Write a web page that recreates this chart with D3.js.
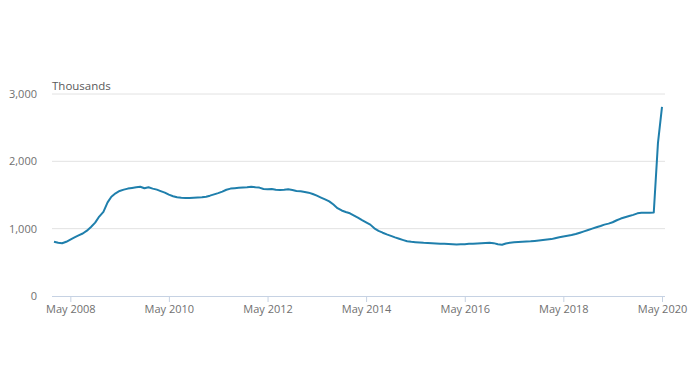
<!DOCTYPE html>
<html>
<head>
<meta charset="utf-8">
<script src="https://cdn.jsdelivr.net/npm/d3@7"></script>
<style>
  body { margin: 0; background: #fff; }
  text { font-family: "Open Sans", sans-serif; }
</style>
</head>
<body>
<div id="chart"></div>
<script>
// claimant count, thousands, monthly from Jan 2008 to May 2020
var startYear = 2008
var values = [
  806, 790, 783, 805, 838, 870, 900, 928, 970, 1025, 1089, 1180,      // 2008
  1250, 1390, 1475, 1525, 1560, 1580, 1595, 1605, 1615, 1623, 1600, 1615, // 2009
  1595, 1580, 1558, 1535, 1505, 1482, 1468, 1460, 1456, 1455, 1458, 1462, // 2010
  1465, 1475, 1490, 1510, 1528, 1550, 1578, 1595, 1600, 1606, 1610, 1615, // 2011
  1623, 1615, 1610, 1590, 1585, 1590, 1578, 1574, 1578, 1585, 1575, 1560, // 2012
  1555, 1545, 1535, 1515, 1490, 1462, 1435, 1405, 1358, 1305, 1270, 1248, // 2013
  1228, 1195, 1165, 1128, 1095, 1060, 1005, 968, 940, 915, 893, 870,       // 2014
  850, 830, 813, 805, 800, 795, 790, 787, 783, 780, 777, 775,              // 2015
  772, 768, 765, 770, 770, 775, 777, 780, 783, 787, 792, 785,              // 2016
  770, 762, 780, 792, 798, 803, 807, 810, 812, 818, 825, 832,              // 2017
  838, 845, 858, 872, 885, 895, 905, 920, 940, 960, 980, 1000,             // 2018
  1020, 1040, 1060, 1075, 1095, 1125, 1150, 1170, 1188, 1205, 1228, 1235,  // 2019
  1237, 1238, 1240, 2270, 2810                                             // 2020
]
var yTicks = [0, 1000, 2000, 3000]
var xTickYears = [2008, 2010, 2012, 2014, 2016, 2018, 2020]

var data = values.map(function(v, i) {
  return {date: new Date(startYear, i, 1), value: v}
})

var width = 700
var height = 365

var svg = d3.select("#chart")
            .append("svg")
            .attr("width", width)
            .attr("height", height)

var x = d3.scaleTime()
          .domain([data[0].date, data[data.length - 1].date])
          .range([54, 662])

var y = d3.scaleLinear()
          .domain([0, 3000])
          .range([296, 94])

//Lineas de la rejilla
svg.append("g")
   .selectAll("line")
   .data(yTicks.slice(1))
   .enter()
   .append("line")
   .attr("x1", 52)
   .attr("x2", 665)
   .attr("y1", d => y(d))
   .attr("y2", d => y(d))
   .attr("stroke", "#e2e2e2")
   .attr("stroke-width", 1)

//Eje Y (solo etiquetas)
var yAxis = d3.axisLeft(y)
              .tickValues(yTicks)
              .tickFormat(d3.format(","))
              .tickSize(0)
              .tickPadding(0)

svg.append("g")
   .attr("transform", "translate(37,0)")
   .call(yAxis)
   .call(g => g.select(".domain").remove())
   .selectAll("text")
   .attr("fill", "#707070")
   .style("font-size", "11px")
   .style("font-family", "'Open Sans', sans-serif")

//Eje X
var xAxis = d3.axisBottom(x)
              .tickValues(xTickYears.map(yr => new Date(yr, 4, 1)))
              .tickFormat(d3.timeFormat("%b %Y"))
              .tickSize(6)
              .tickPadding(3)

var xg = svg.append("g")
            .attr("transform", "translate(0,296)")
            .call(xAxis)
xg.select(".domain").remove()
xg.selectAll(".tick line").attr("stroke", "#c6d2e3")
xg.selectAll("text")
  .attr("fill", "#707070")
  .style("font-size", "11px")
  .style("font-family", "'Open Sans', sans-serif")

svg.append("line")
   .attr("x1", 52)
   .attr("x2", 665)
   .attr("y1", 296.5)
   .attr("y2", 296.5)
   .attr("stroke", "#c6d2e3")

//Titulo de unidades
svg.append("text")
   .attr("x", 52)
   .attr("y", 90)
   .attr("fill", "#5a5a5a")
   .style("font-size", "11.5px")
   .text("Thousands")

//Linea
var line = d3.line()
             .x(d => x(d.date))
             .y(d => y(d.value))

svg.append("path")
   .datum(data)
   .attr("d", line)
   .attr("fill", "none")
   .attr("stroke", "#1f7fac")
   .attr("stroke-width", 2)
   .attr("stroke-linejoin", "round")
</script>
</body>
</html>
